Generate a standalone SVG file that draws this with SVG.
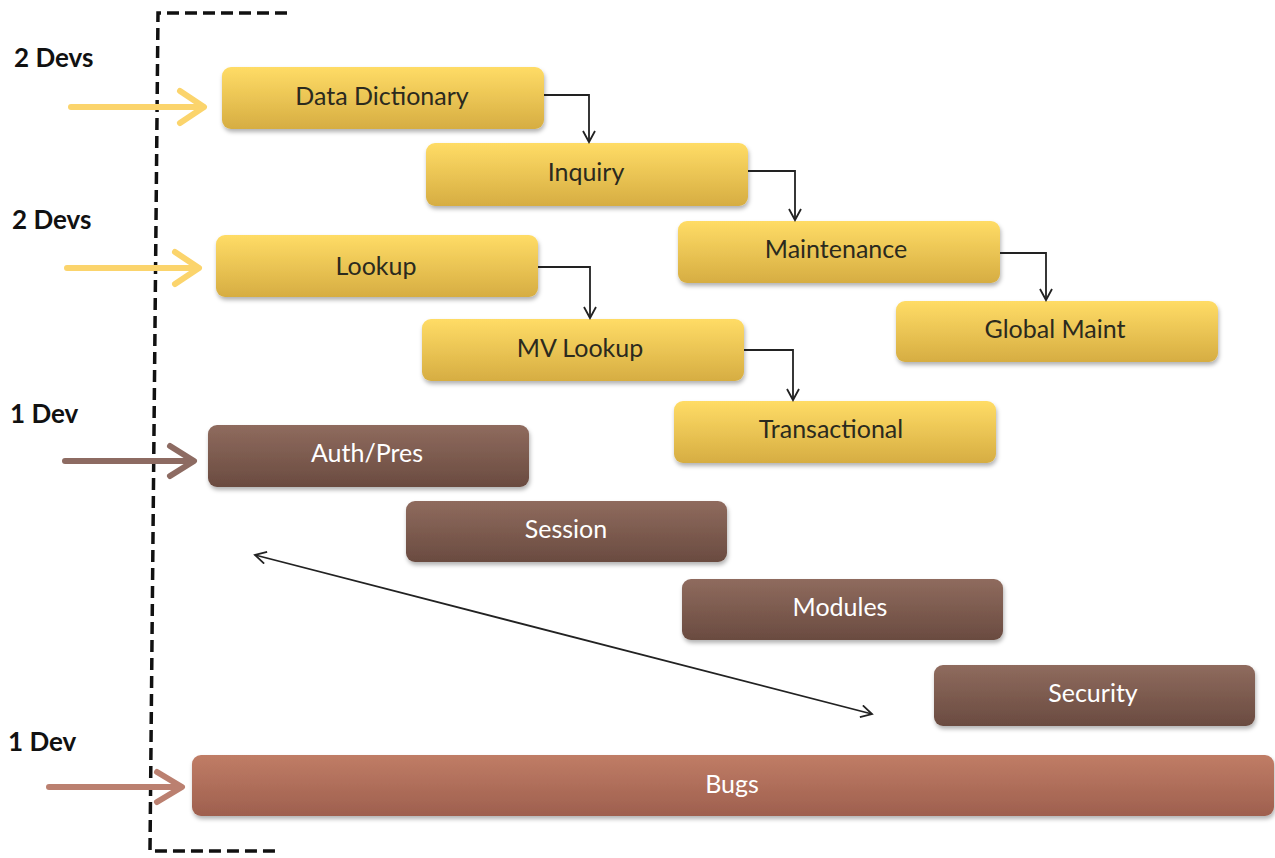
<svg xmlns="http://www.w3.org/2000/svg" width="1275" height="858" viewBox="0 0 1275 858">
<style>
.lbl{font-family:Lato,"Open Sans","Liberation Sans",sans-serif;font-size:25px;text-anchor:middle;dominant-baseline:central}
.dk{fill:#2b2a1e}
.wt{fill:#ffffff}
.dev{font-family:Lato,"Liberation Sans",sans-serif;font-size:26px;font-weight:bold;fill:#111}
.conn{fill:none;stroke:#222;stroke-width:1.8}
</style>
<defs>
<linearGradient id="gy" x1="0" y1="0" x2="0" y2="1"><stop offset="0" stop-color="#ffdc66"/><stop offset="1" stop-color="#d6ad42"/></linearGradient>
<linearGradient id="gb" x1="0" y1="0" x2="0" y2="1"><stop offset="0" stop-color="#8f6b5e"/><stop offset="1" stop-color="#6a4b40"/></linearGradient>
<linearGradient id="gr" x1="0" y1="0" x2="0" y2="1"><stop offset="0" stop-color="#c07d66"/><stop offset="1" stop-color="#9e5f4e"/></linearGradient>
<filter id="sh" x="-5%" y="-20%" width="110%" height="150%"><feDropShadow dx="1" dy="3" stdDeviation="2" flood-color="#000" flood-opacity="0.3"/></filter>
<marker id="ah" markerWidth="14" markerHeight="14" refX="12" refY="7" orient="auto" markerUnits="userSpaceOnUse"><path d="M1,1 L12,7 L1,13" fill="none" stroke="#222" stroke-width="1.8"/></marker>
<marker id="ahs" markerWidth="14" markerHeight="14" refX="12" refY="7" orient="auto-start-reverse" markerUnits="userSpaceOnUse"><path d="M1,1 L12,7 L1,13" fill="none" stroke="#222" stroke-width="1.8"/></marker>
</defs>
<rect width="1275" height="858" fill="#fff"/>
<g id="bracket" fill="none" stroke="#111" stroke-width="3.5" stroke-dasharray="12,6">
<path d="M287,13 L158,13 L150,851 L278,851"/>
</g>
<g id="labels">
<text class="dev" x="14" y="67">2 Devs</text>
<text class="dev" x="12" y="229">2 Devs</text>
<text class="dev" x="10" y="423">1 Dev</text>
<text class="dev" x="8" y="751">1 Dev</text>
</g>
<g id="entry-arrows" fill="none" stroke-width="6" stroke-linecap="round" stroke-linejoin="round">
<g stroke="#fbd46c"><path d="M71,107 L203,107"/><path d="M180,91 L204,107 L180,123"/></g>
<g stroke="#fbd46c"><path d="M67,268 L198,268"/><path d="M175,252 L199,268 L175,284"/></g>
<g stroke="#8d6b62"><path d="M65,461 L190,461"/><path d="M170,446 L194,461 L170,476"/></g>
<g stroke="#bb8070"><path d="M49,787 L178,787"/><path d="M157,772 L182,787 L157,802"/></g>
</g>
<g id="n-datadict"><rect x="222" y="67" width="322" height="62" rx="9" fill="url(#gy)" filter="url(#sh)"/><text class="lbl dk" x="382" y="95">Data Dictionary</text></g>
<g id="n-inquiry"><rect x="426" y="143" width="322" height="63" rx="9" fill="url(#gy)" filter="url(#sh)"/><text class="lbl dk" x="586" y="171">Inquiry</text></g>
<g id="n-maint"><rect x="678" y="221" width="322" height="62" rx="9" fill="url(#gy)" filter="url(#sh)"/><text class="lbl dk" x="836" y="248">Maintenance</text></g>
<g id="n-global"><rect x="896" y="301" width="322" height="61" rx="9" fill="url(#gy)" filter="url(#sh)"/><text class="lbl dk" x="1055" y="328">Global Maint</text></g>
<g id="n-lookup"><rect x="216" y="235" width="322" height="62" rx="9" fill="url(#gy)" filter="url(#sh)"/><text class="lbl dk" x="376" y="265">Lookup</text></g>
<g id="n-mvlookup"><rect x="422" y="319" width="322" height="62" rx="9" fill="url(#gy)" filter="url(#sh)"/><text class="lbl dk" x="580" y="347">MV Lookup</text></g>
<g id="n-trans"><rect x="674" y="401" width="322" height="62" rx="9" fill="url(#gy)" filter="url(#sh)"/><text class="lbl dk" x="831" y="428">Transactional</text></g>
<g id="n-auth"><rect x="208" y="425" width="321" height="62" rx="9" fill="url(#gb)" filter="url(#sh)"/><text class="lbl wt" x="367" y="452">Auth/Pres</text></g>
<g id="n-session"><rect x="406" y="501" width="321" height="61" rx="9" fill="url(#gb)" filter="url(#sh)"/><text class="lbl wt" x="566" y="528">Session</text></g>
<g id="n-modules"><rect x="682" y="579" width="321" height="61" rx="9" fill="url(#gb)" filter="url(#sh)"/><text class="lbl wt" x="840" y="606">Modules</text></g>
<g id="n-security"><rect x="934" y="665" width="321" height="61" rx="9" fill="url(#gb)" filter="url(#sh)"/><text class="lbl wt" x="1093" y="692">Security</text></g>
<g id="n-bugs"><rect x="192" y="755" width="1082" height="61" rx="9" fill="url(#gr)" filter="url(#sh)"/><text class="lbl wt" x="732" y="783">Bugs</text></g>
<g id="connectors">
<path class="conn" d="M544,95 L589,95 L589,142" marker-end="url(#ah)"/>
<path class="conn" d="M748,171 L795,171 L795,220" marker-end="url(#ah)"/>
<path class="conn" d="M1000,253 L1046,253 L1046,300" marker-end="url(#ah)"/>
<path class="conn" d="M538,267 L590,267 L590,318" marker-end="url(#ah)"/>
<path class="conn" d="M744,350 L793,350 L793,400" marker-end="url(#ah)"/>
<path class="conn" d="M255,555 L872,714" marker-start="url(#ahs)" marker-end="url(#ah)"/>
</g>
</svg>
